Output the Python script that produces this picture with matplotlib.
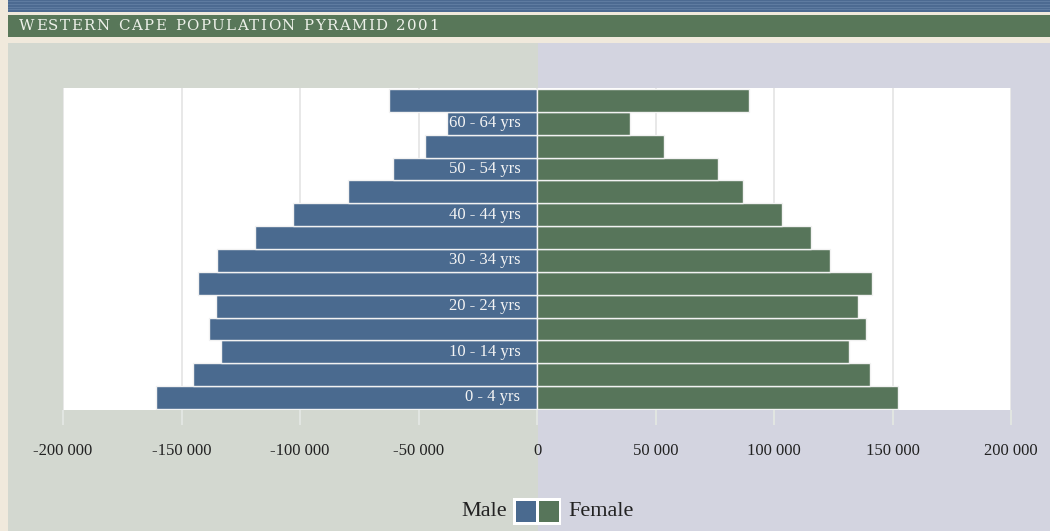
import matplotlib
matplotlib.use('Agg')
import matplotlib.pyplot as plt
from matplotlib.patches import Rectangle
from matplotlib.font_manager import FontProperties

# ---------------- data ----------------
age_groups = ['0 - 4 yrs', '5 - 9 yrs', '10 - 14 yrs', '15 - 19 yrs', '20 - 24 yrs',
              '25 - 29 yrs', '30 - 34 yrs', '35 - 39 yrs', '40 - 44 yrs', '45 - 49 yrs',
              '50 - 54 yrs', '55 - 59 yrs', '60 - 64 yrs', '65+ yrs']
male = [160700, 145000, 133200, 138200, 135400, 142900, 134900,
        119100, 102900, 79800, 60700, 47400, 38100, 62400]
female = [152400, 140500, 131500, 138800, 135600, 141300, 123600,
          115800, 103400, 87100, 76200, 53600, 39300, 89500]
shown_labels = ['0 - 4 yrs', '10 - 14 yrs', '20 - 24 yrs', '30 - 34 yrs',
                '40 - 44 yrs', '50 - 54 yrs', '60 - 64 yrs']
x_ticks = [-200000, -150000, -100000, -50000, 0, 50000, 100000, 150000, 200000]
x_tick_labels = ['-200 000', '-150 000', '-100 000', '-50 000', '0',
                 '50 000', '100 000', '150 000', '200 000']
title = 'WESTERN CAPE POPULATION PYRAMID 2001'
series_names = ['Male', 'Female']

# ---------------- style ----------------
W, H = 1050, 531
BEIGE = '#F0E9DC'
STRIPE = '#4C6A91'
STRIPE_LIGHT = '#5E7BA0'
HEADER = '#587759'
PANEL_L = '#D3D8D0'
PANEL_R = '#D3D4E0'
MALE_C = '#4A6A8F'
FEMALE_C = '#57755A'
TEXT_C = '#222222'
SERIF = ['Liberation Serif', 'DejaVu Serif']

fig = plt.figure(figsize=(W / 100, H / 100), dpi=100)
fig.patch.set_facecolor(BEIGE)


def px_rect(x, y_top, w, h, color, z=0, **kw):
    r = Rectangle((x / W, 1 - (y_top + h) / H), w / W, h / H,
                  transform=fig.transFigure, facecolor=color, zorder=z, **kw)
    fig.add_artist(r)
    return r


def fx(x):
    return x / W


def fy(y):
    return 1 - y / H


# top stripes
px_rect(8, 0, W - 8, 12, STRIPE)
for yy in [1.5, 4.2, 6.8, 9.4]:
    px_rect(8, yy, W - 8, 0.8, STRIPE_LIGHT, z=1)
# header
px_rect(8, 14.5, W - 8, 22.5, HEADER)
# panels
px_rect(8, 42.5, 529.5, H - 42.5, PANEL_L)
px_rect(537.5, 42.5, W - 537.5, H - 42.5, PANEL_R)

# title with letter spacing
renderer = fig.canvas.get_renderer()
fp = FontProperties(family=['DejaVu Serif'], size=10.8)
space_w = 6.0
widths = []
for c in title:
    if c == ' ':
        widths.append(space_w)
    else:
        widths.append(renderer.get_text_width_height_descent(c, fp, ismath=False)[0])
target = 420.0
spacing = (target - sum(widths)) / (len(title) - 1)
xcur = 19.0
for c, w in zip(title, widths):
    if c != ' ':
        fig.text(fx(xcur), fy(26), c, fontproperties=fp, color='#EEF1EA',
                 ha='left', va='center', zorder=5)
    xcur += w + spacing

# ---------------- axes ----------------
ax = fig.add_axes([63 / W, (H - 410) / H, 948 / W, 322 / H])
ax.set_facecolor('white')
ax.set_zorder(3)
y = list(range(len(age_groups)))
neg_male = [-v for v in male]
ax.barh(y, neg_male, height=1.0, color=MALE_C, edgecolor='#F2F2F2', linewidth=1.0, zorder=3)
ax.barh(y, female, height=1.0, color=FEMALE_C, edgecolor='#F2F2F2', linewidth=1.0, zorder=3)

ax.set_xlim(-200000, 200000)
ax.set_ylim(-0.55, len(age_groups) - 0.45)
ax.set_xticks(x_ticks)
ax.set_xticklabels(x_tick_labels, family=SERIF, fontsize=12, color=TEXT_C)
ax.set_yticks([])
ax.grid(axis='x', color='#E8E8E8', linewidth=1.4, zorder=1)
ax.set_axisbelow(True)
ax.tick_params(axis='x', length=11, width=1.4, color='#E2E6E2', pad=13, direction='out')
for s in ax.spines.values():
    s.set_visible(False)

for i, lab in enumerate(age_groups):
    if lab in shown_labels:
        ax.annotate(lab, xy=(0, i), xytext=(-12, 0), textcoords='offset points',
                    ha='right', va='center', color='#F4F4F4', family=SERIF,
                    fontsize=12, zorder=5)

# ---------------- legend ----------------
fig.text(fx(507), fy(512), series_names[0], family=SERIF, fontsize=16,
         color=TEXT_C, ha='right', va='center')
fig.text(fx(568), fy(512), series_names[1], family=SERIF, fontsize=16,
         color=TEXT_C, ha='left', va='center')
px_rect(513, 498, 48, 26.5, 'white', z=4)
px_rect(516, 501, 20, 21, MALE_C, z=5)
px_rect(538.5, 501, 20, 21, FEMALE_C, z=5)

fig.savefig('out.png', dpi=100, facecolor=fig.get_facecolor())
